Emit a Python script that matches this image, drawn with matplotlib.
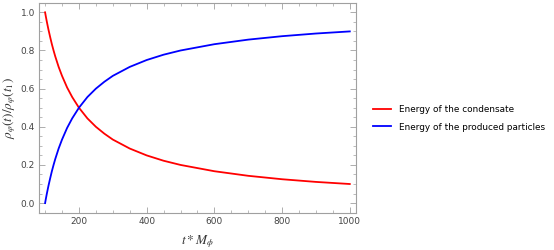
import matplotlib
matplotlib.use("Agg")
import matplotlib.pyplot as plt
from matplotlib.ticker import MultipleLocator

plt.rcParams["mathtext.fontset"] = "stix"

# values
t = [100, 102, 105, 108, 110, 115, 120, 125, 130, 140, 150, 165, 180, 200, 225, 250,
     275, 300, 350, 400, 450, 500, 600, 700, 800, 900, 1000]
condensate = [1.0, 0.980, 0.952, 0.926, 0.909, 0.870, 0.833, 0.8, 0.769, 0.714,
              0.667, 0.606, 0.556, 0.5, 0.444, 0.4, 0.364, 0.333, 0.286, 0.25,
              0.222, 0.2, 0.167, 0.143, 0.125, 0.111, 0.1]
particles = [0.0, 0.020, 0.048, 0.074, 0.091, 0.130, 0.167, 0.2, 0.231, 0.286,
             0.333, 0.394, 0.444, 0.5, 0.556, 0.6, 0.636, 0.667, 0.714, 0.75,
             0.778, 0.8, 0.833, 0.857, 0.875, 0.889, 0.9]

labels = ["Energy of the condensate", "Energy of the produced particles"]

fig = plt.figure(figsize=(5.54, 2.5), dpi=100)
ax = fig.add_axes([0.0704, 0.148, 0.572, 0.84])

ax.plot(t, condensate, color="#ff0000", lw=1.3, label=labels[0])
ax.plot(t, particles, color="#0000ff", lw=1.3, label=labels[1])

ax.set_xlim(82, 1018)
ax.set_ylim(-0.052, 1.049)
ax.xaxis.set_major_locator(MultipleLocator(200))
ax.xaxis.set_minor_locator(MultipleLocator(50))
ax.yaxis.set_major_locator(MultipleLocator(0.2))
ax.yaxis.set_minor_locator(MultipleLocator(0.05))
ax.yaxis.set_major_formatter(plt.FormatStrFormatter("%.1f"))

for s in ax.spines.values():
    s.set_color("#a0a0a0")
    s.set_linewidth(0.8)
ax.tick_params(which="both", direction="in", top=True, right=True,
               color="#a0a0a0", labelsize=6.5, labelcolor="#444444", pad=3)
ax.tick_params(which="major", length=4, width=0.6)
ax.tick_params(which="minor", length=2, width=0.5)

ax.set_xlabel(r"$t * M_{\phi}$", fontsize=9.5, color="#333333", labelpad=5)
ax.set_ylabel(r"$\rho_{\varphi}(t)/\rho_{\varphi}(t_1)$", fontsize=9.5,
              color="#333333", labelpad=2)

ax.legend(loc="center left", bbox_to_anchor=(1.03, 0.45), frameon=False,
          fontsize=6.4, handlelength=2.0, handletextpad=0.9, labelspacing=0.9)

fig.savefig("out.png", dpi=100)
